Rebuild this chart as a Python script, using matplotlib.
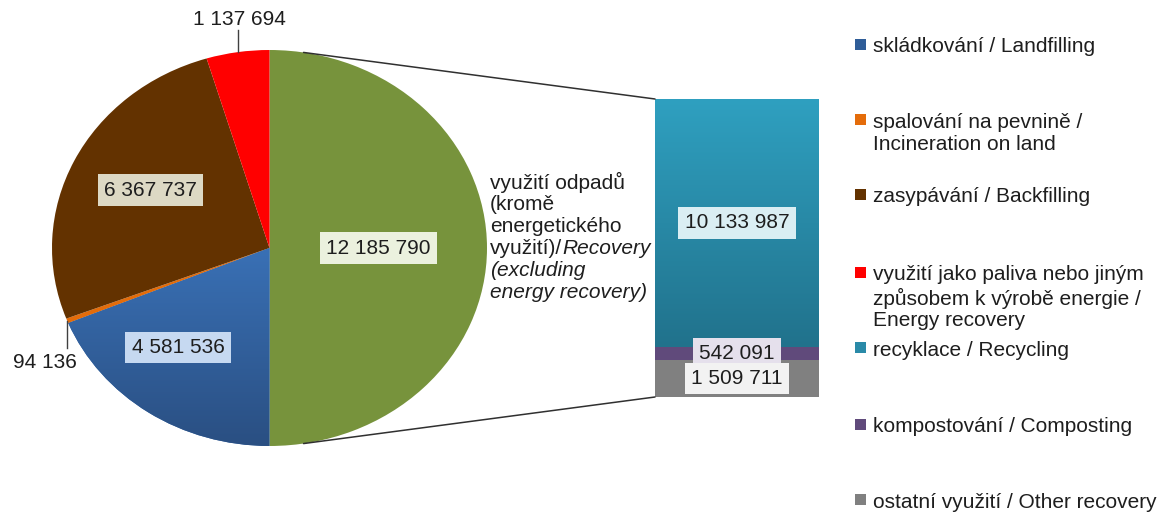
import numpy as np
import matplotlib.pyplot as plt
from matplotlib.patches import Rectangle, ConnectionPatch
from matplotlib.colors import LinearSegmentedColormap

plt.rcParams['font.family'] = ['Liberation Sans', 'DejaVu Sans']

# pie: clockwise from the top
pie_values = [12185790, 4581536, 94136, 6367737, 1137694]
pie_colors = ['#77933c', '#3467a8', '#e46c0a', '#633200', '#ff0000']
pie_texts = ['12 185 790', '4 581 536', '94 136', '6 367 737', '1 137 694']

# bar: bottom to top
bar_values = [1509711, 542091, 10133987]
bar_colors = ['#808080', '#604a7b', '#2a8aa8']
bar_texts = ['1 509 711', '542 091', '10 133 987']

legend_labels = [
    'skládkování / Landfilling',
    'spalování na pevnině /\nIncineration on land',
    'zasypávání / Backfilling',
    'využití jako paliva nebo jiným\nzpůsobem k výrobě energie /\nEnergy recovery',
    'recyklace / Recycling',
    'kompostování / Composting',
    'ostatní využití / Other recovery',
]
legend_colors = ['#2f5d98', '#e46c0a', '#633200', '#ff0000', '#2a8aa8', '#604a7b', '#808080']

W, H = 1172, 514
fig = plt.figure(figsize=(W / 100, H / 100), dpi=100)
txt = '#1e1e1e'
fs = 15


def fbox(l, t, w, h):
    return [l / W, (H - t - h) / H, w / W, h / H]


# ---- pie (slightly elliptical like the original) ----
ax_pie = fig.add_axes(fbox(52, 50, 435, 396))
wedges, _ = ax_pie.pie(pie_values, colors=pie_colors, startangle=90,
                       counterclock=False, radius=1,
                       wedgeprops=dict(linewidth=0))
ax_pie.set_aspect('auto')
ax_pie.axis('off')

# gradient on landfilling slice
cm_blue = LinearSegmentedColormap.from_list('b', ['#3a72b8', '#2a4f82'])
im = ax_pie.imshow(np.linspace(0, 1, 256).reshape(-1, 1), cmap=cm_blue,
                   extent=(-1, 1, -1, 0.05), aspect='auto', zorder=1.5)
im.set_clip_path(wedges[1])
ax_pie.set_xlim(-1, 1)
ax_pie.set_ylim(-1, 1)

inside = {0: (0.50, 0, '#ebf1de'), 1: (0.655, -6, '#c6d9f1'), 3: (0.62, -2, '#ddd9c4')}
for i, (r, dt, bg) in inside.items():
    w = wedges[i]
    a = np.deg2rad((w.theta1 + w.theta2) / 2 + dt)
    ax_pie.text(r * np.cos(a), r * np.sin(a), pie_texts[i], ha='center', va='center',
                fontsize=fs, color=txt, zorder=5,
                bbox=dict(boxstyle='square,pad=0.3', fc=bg, ec='none'))

# outside labels with leader lines
a = np.deg2rad((wedges[4].theta1 + wedges[4].theta2) / 2)
x0, y0 = np.cos(a), np.sin(a)
ax_pie.plot([x0, x0], [y0, 1.10], color='#404040', lw=1, clip_on=False)
ax_pie.text(x0 + 0.01, 1.165, pie_texts[4], ha='center', va='center_baseline',
            fontsize=fs, color=txt)

a = np.deg2rad((wedges[2].theta1 + wedges[2].theta2) / 2)
x0, y0 = np.cos(a), np.sin(a)
ax_pie.plot([x0, x0], [y0, -0.506], color='#404040', lw=1, clip_on=False)
ax_pie.text(-1.034, -0.567, pie_texts[2], ha='center', va='center_baseline',
            fontsize=fs, color=txt)

# ---- bar of pie ----
ax_bar = fig.add_axes(fbox(655, 99, 164, 298))
total = sum(bar_values)
bottoms = np.concatenate([[0], np.cumsum(bar_values)[:-1]])
bars = ax_bar.bar(0, bar_values, bottom=bottoms, width=1, color=bar_colors, linewidth=0)
ax_bar.axis('off')

cm_teal = LinearSegmentedColormap.from_list('t', ['#2fa0c0', '#21728c'])
im2 = ax_bar.imshow(np.linspace(0, 1, 256).reshape(-1, 1), cmap=cm_teal,
                    extent=(-0.5, 0.5, bottoms[2], total), aspect='auto', zorder=1.5)
im2.set_clip_path(bars[2])
ax_bar.set_xlim(-0.5, 0.5)
ax_bar.set_ylim(0, total)

bar_bg = ['#f2f2f2', '#e5e0ec', '#daeef3']
for i in [2, 1, 0]:
    ax_bar.text(0, bottoms[i] + bar_values[i] / 2, bar_texts[i], ha='center', va='center',
                fontsize=fs, color=txt, zorder=5 + (2 - i),
                bbox=dict(boxstyle='square,pad=0.3', fc=bar_bg[i], ec='none'))

# connector lines
ang = np.deg2rad(81)
for sgn, yb in [(1, total), (-1, 0)]:
    con = ConnectionPatch(xyA=(np.cos(ang), sgn * np.sin(ang)), coordsA=ax_pie.transData,
                          xyB=(-0.5, yb), coordsB=ax_bar.transData,
                          color='#303030', lw=1.1)
    fig.add_artist(con)

# ---- overlay for category text and legend (pixel coords) ----
ax_o = fig.add_axes([0, 0, 1, 1])
ax_o.set_xlim(0, W)
ax_o.set_ylim(H, 0)
ax_o.axis('off')

cat_lines = ['využití odpadů', '(kromě', 'energetického', 'využití)/']
for k, s in enumerate(cat_lines):
    t = ax_o.text(490, 180 + 22 * k, s, ha='left', va='center_baseline', fontsize=fs, color=txt)
ax_o.annotate('Recovery', xy=(1, 0), xycoords=t, ha='left', va='bottom',
              fontsize=fs, color=txt, style='italic')
for k, s in enumerate(['(excluding', 'energy recovery)']):
    ax_o.text(490, 268 + 22 * k, s, ha='left', va='center_baseline', fontsize=fs,
              color=txt, style='italic')

leg_y = [45, 120, 195, 273, 348, 425, 500]
for lab, col, y in zip(legend_labels, legend_colors, leg_y):
    ax_o.add_patch(Rectangle((855, y - 6), 11, 11, fc=col, ec='none'))
    for k, s in enumerate(lab.split('\n')):
        ax_o.text(873, y + 23 * k, s, ha='left', va='center_baseline', fontsize=15, color=txt)

fig.savefig('out.png', dpi=100)
